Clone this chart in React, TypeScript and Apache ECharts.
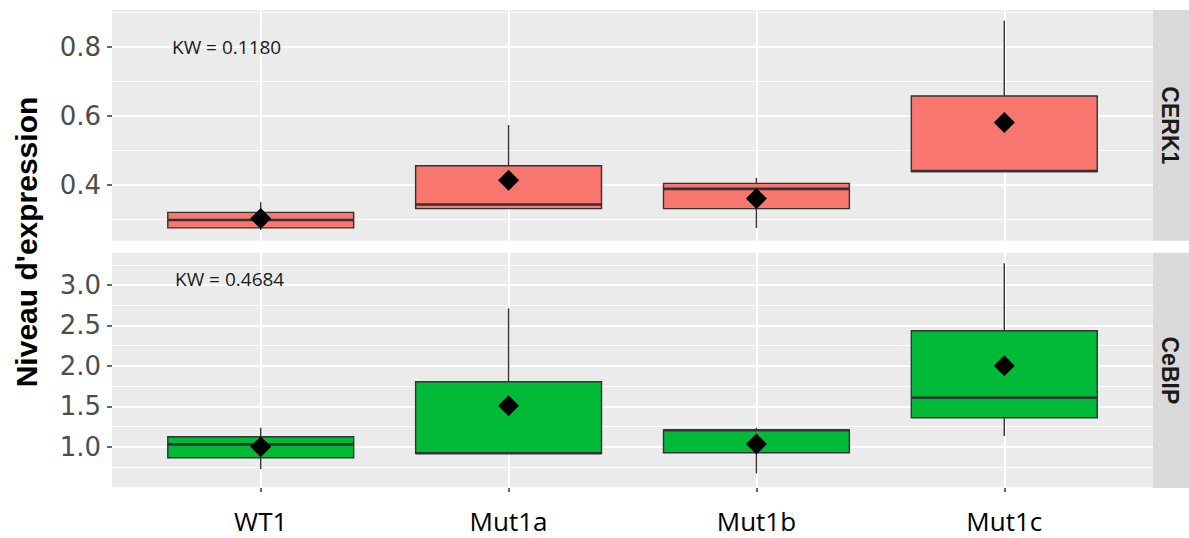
import React, { useEffect, useRef } from "react";
import * as echarts from "echarts";

const categories = ["WT1", "Mut1a", "Mut1b", "Mut1c"];
const categoryPositions = [1, 2, 3, 4];

// CERK1 panel
const cerk1Lower = [0.27, 0.332, 0.276, 0.439];
const cerk1Q1 = [0.276, 0.332, 0.332, 0.439];
const cerk1Median = [0.299, 0.344, 0.389, 0.441];
const cerk1Q3 = [0.321, 0.456, 0.405, 0.658];
const cerk1Upper = [0.35, 0.574, 0.421, 0.876];
const cerk1Mean = [0.303, 0.414, 0.361, 0.581];

// CeBIP panel
const cebipLower = [0.724, 0.918, 0.671, 1.132];
const cebipQ1 = [0.864, 0.918, 0.926, 1.359];
const cebipMedian = [1.03, 0.92, 1.205, 1.606];
const cebipQ3 = [1.124, 1.804, 1.207, 2.435];
const cebipUpper = [1.235, 2.712, 1.235, 3.268];
const cebipMean = [1.0, 1.507, 1.033, 2.002];

const cerk1Ticks = [0.4, 0.6, 0.8];
const cerk1Minor = [0.3, 0.5, 0.7, 0.9];
const cebipTicks = [1.0, 1.5, 2.0, 2.5, 3.0];
const cebipMinor = [0.5, 0.75, 1.25, 1.75, 2.25, 2.75, 3.25];

const facetLabels = ["CERK1", "CeBIP"];
const kwLabels = ["KW = 0.1180", "KW = 0.4684"];
const yTitle = "Niveau d'expression";

const RED = "#F8766D";
const GREEN = "#00BA38";
const PANEL_BG = "#EBEBEB";
const STRIP_BG = "#D9D9D9";

const BOX_HALF = 0.375;

function boxRows(lo: number[], q1: number[], med: number[], q3: number[], hi: number[]) {
  return categoryPositions.map((x, i) => [x, lo[i], q1[i], med[i], q3[i], hi[i]]);
}

function makeRenderItem(fill: string) {
  return (params: any, api: any) => {
    const x = api.value(0);
    const lo = api.coord([x, api.value(1)]);
    const q1 = api.coord([x, api.value(2)]);
    const med = api.coord([x, api.value(3)]);
    const q3 = api.coord([x, api.value(4)]);
    const hi = api.coord([x, api.value(5)]);
    const left = api.coord([x - BOX_HALF, api.value(2)])[0];
    const right = api.coord([x + BOX_HALF, api.value(2)])[0];
    const stroke = "#333333";
    return {
      type: "group",
      children: [
        {
          type: "line",
          shape: { x1: hi[0], y1: hi[1], x2: q3[0], y2: q3[1] },
          style: { stroke, lineWidth: 1.4 },
        },
        {
          type: "line",
          shape: { x1: q1[0], y1: q1[1], x2: lo[0], y2: lo[1] },
          style: { stroke, lineWidth: 1.4 },
        },
        {
          type: "rect",
          shape: { x: left, y: q3[1], width: right - left, height: q1[1] - q3[1] },
          style: { fill, stroke, lineWidth: 1.4 },
        },
        {
          type: "line",
          shape: { x1: left, y1: med[1], x2: right, y2: med[1] },
          style: { stroke, lineWidth: 2.6 },
        },
      ],
    };
  };
}

const P1_TOP = 10;
const P1_H = 230.7;
const P2_TOP = 252.7;
const P2_H = 235.3;
const P_LEFT = 112;
const P_W = 1041;

export default function App() {
  const ref = useRef<HTMLDivElement>(null);

  useEffect(() => {
    document.body.style.margin = "0";
    if (!ref.current) return;
    const chart = echarts.init(ref.current, null, { renderer: "svg" });

    const tickLabelStyle = {
      color: "#4D4D4D",
      fontSize: 26,
      fontFamily: "DejaVu Sans",
      margin: 11,
    };

    const xAxisBase = {
      type: "value",
      min: 0.4,
      max: 4.6,
      axisLine: { show: false },
      splitLine: { show: true, lineStyle: { color: "#FFFFFF", width: 2 } },
    };

    const option: any = {
      animation: false,
      backgroundColor: "#FFFFFF",
      grid: [
        {
          left: P_LEFT,
          top: P1_TOP,
          width: P_W,
          height: P1_H,
          show: true,
          backgroundColor: PANEL_BG,
          borderWidth: 0,
        },
        {
          left: P_LEFT,
          top: P2_TOP,
          width: P_W,
          height: P2_H,
          show: true,
          backgroundColor: PANEL_BG,
          borderWidth: 0,
        },
      ],
      xAxis: [
        {
          ...xAxisBase,
          gridIndex: 0,
          axisTick: { show: false, customValues: categoryPositions },
          axisLabel: { show: false, customValues: categoryPositions },
        },
        {
          ...xAxisBase,
          gridIndex: 1,
          axisTick: {
            show: true,
            length: 4,
            customValues: categoryPositions,
            lineStyle: { color: "#333333", width: 1.5 },
          },
          axisLabel: {
            show: true,
            customValues: categoryPositions,
            formatter: (v: number) => categories[Math.round(v) - 1] ?? "",
            color: "#000000",
            fontSize: 26,
            fontFamily: "Open Sans",
            margin: 20,
          },
        },
      ],
      yAxis: [
        {
          type: "value",
          gridIndex: 0,
          min: 0.239,
          max: 0.907,
          axisLine: { show: false },
          axisTick: {
            show: true,
            length: 5,
            customValues: cerk1Ticks,
            lineStyle: { color: "#333333", width: 1.5 },
          },
          axisLabel: {
            ...tickLabelStyle,
            customValues: cerk1Ticks,
            formatter: (v: number) => v.toFixed(1),
          },
          splitLine: { show: true, lineStyle: { color: "#FFFFFF", width: 2 } },
        },
        {
          type: "value",
          gridIndex: 0,
          position: "left",
          min: 0.239,
          max: 0.907,
          axisLine: { show: false },
          axisTick: { show: false, customValues: cerk1Minor },
          axisLabel: { show: false, customValues: cerk1Minor },
          splitLine: { show: true, lineStyle: { color: "#FFFFFF", width: 1.2 } },
        },
        {
          type: "value",
          gridIndex: 1,
          min: 0.49,
          max: 3.4,
          axisLine: { show: false },
          axisTick: {
            show: true,
            length: 5,
            customValues: cebipTicks,
            lineStyle: { color: "#333333", width: 1.5 },
          },
          axisLabel: {
            ...tickLabelStyle,
            customValues: cebipTicks,
            formatter: (v: number) => v.toFixed(1),
          },
          splitLine: { show: true, lineStyle: { color: "#FFFFFF", width: 2 } },
        },
        {
          type: "value",
          gridIndex: 1,
          position: "left",
          min: 0.49,
          max: 3.4,
          axisLine: { show: false },
          axisTick: { show: false, customValues: cebipMinor },
          axisLabel: { show: false, customValues: cebipMinor },
          splitLine: { show: true, lineStyle: { color: "#FFFFFF", width: 1.2 } },
        },
      ],
      series: [
        {
          type: "custom",
          name: "CERK1",
          xAxisIndex: 0,
          yAxisIndex: 0,
          z: 3,
          renderItem: makeRenderItem(RED),
          encode: { x: 0, y: [1, 2, 3, 4, 5] },
          data: boxRows(cerk1Lower, cerk1Q1, cerk1Median, cerk1Q3, cerk1Upper),
        },
        {
          type: "scatter",
          name: "CERK1 mean",
          xAxisIndex: 0,
          yAxisIndex: 0,
          z: 5,
          symbol: "diamond",
          symbolSize: [21, 21],
          itemStyle: { color: "#000000", opacity: 1 },
          data: categoryPositions.map((x, i) => [x, cerk1Mean[i]]),
        },
        {
          type: "custom",
          name: "CeBIP",
          xAxisIndex: 1,
          yAxisIndex: 2,
          z: 3,
          renderItem: makeRenderItem(GREEN),
          encode: { x: 0, y: [1, 2, 3, 4, 5] },
          data: boxRows(cebipLower, cebipQ1, cebipMedian, cebipQ3, cebipUpper),
        },
        {
          type: "scatter",
          name: "CeBIP mean",
          xAxisIndex: 1,
          yAxisIndex: 2,
          z: 5,
          symbol: "diamond",
          symbolSize: [21, 21],
          itemStyle: { color: "#000000", opacity: 1 },
          data: categoryPositions.map((x, i) => [x, cebipMean[i]]),
        },
      ],
      graphic: [
        // strips
        {
          type: "rect",
          shape: { x: P_LEFT + P_W, y: P1_TOP, width: 40, height: P1_H },
          style: { fill: STRIP_BG },
          silent: true,
        },
        {
          type: "rect",
          shape: { x: P_LEFT + P_W, y: P2_TOP, width: 40, height: P2_H },
          style: { fill: STRIP_BG },
          silent: true,
        },
        {
          type: "text",
          x: 1170,
          y: P1_TOP + P1_H / 2,
          rotation: -Math.PI / 2,
          style: {
            text: facetLabels[0],
            fill: "#1A1A1A",
            fontSize: 23,
            fontWeight: "bold",
            fontFamily: "Liberation Sans",
            textAlign: "center",
            textVerticalAlign: "middle",
            align: "center",
            verticalAlign: "middle",
          },
        },
        {
          type: "text",
          x: 1170,
          y: P2_TOP + P2_H / 2,
          rotation: -Math.PI / 2,
          style: {
            text: facetLabels[1],
            fill: "#1A1A1A",
            fontSize: 23,
            fontWeight: "bold",
            fontFamily: "Liberation Sans",
            textAlign: "center",
            textVerticalAlign: "middle",
            align: "center",
            verticalAlign: "middle",
          },
        },
        // y title
        {
          type: "text",
          x: 26,
          y: 242,
          rotation: Math.PI / 2,
          style: {
            text: yTitle,
            fill: "#000000",
            fontSize: 30,
            fontWeight: "bold",
            fontFamily: "Liberation Sans",
            textAlign: "center",
            textVerticalAlign: "middle",
            align: "center",
            verticalAlign: "middle",
          },
        },
        // KW annotations
        {
          type: "text",
          x: 172,
          y: 47,
          z: 10,
          style: {
            text: kwLabels[0],
            fill: "#1A1A1A",
            fontSize: 19,
            fontFamily: "Open Sans",
            textAlign: "left",
            textVerticalAlign: "middle",
            align: "left",
            verticalAlign: "middle",
          },
        },
        {
          type: "text",
          x: 175,
          y: 279,
          z: 10,
          style: {
            text: kwLabels[1],
            fill: "#1A1A1A",
            fontSize: 19,
            fontFamily: "Open Sans",
            textAlign: "left",
            textVerticalAlign: "middle",
            align: "left",
            verticalAlign: "middle",
          },
        },
      ],
    };

    chart.setOption(option);
    return () => {
      chart.dispose();
    };
  }, []);

  return <div ref={ref} style={{ width: 1189, height: 538 }} />;
}
